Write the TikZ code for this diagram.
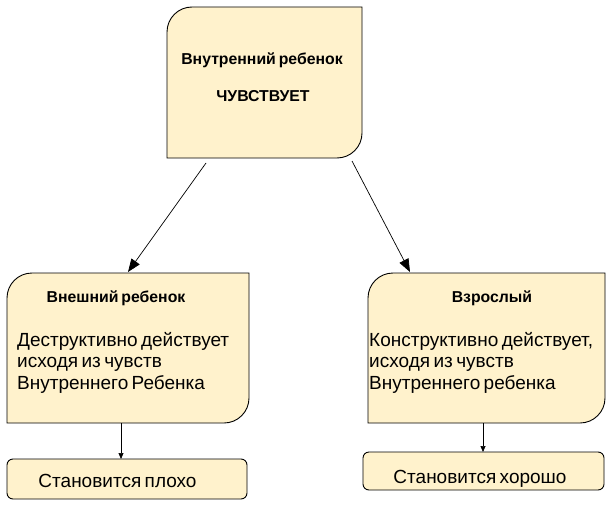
\documentclass[tikz,border=0pt]{standalone}
\usepackage{fontspec}
\setmainfont{Liberation Sans}
\newfontfamily\tightfont[WordSpace=0.65]{Liberation Sans}
\usetikzlibrary{arrows.meta,calc}
\definecolor{boxfill}{HTML}{FFF2CC}
\tikzset{
  frame/.style={draw=none, fill=none, inner sep=0pt, outer sep=0pt},
  outline/.style={draw=black, fill=boxfill, line width=0.9pt},
  pill/.style={draw=black, fill=boxfill, line width=0.9pt, rounded corners=6pt, inner sep=0pt, outer sep=0pt},
  bigarrow/.style={-{Triangle[length=13pt,width=10pt]}, line width=0.7pt},
  smallarrow/.style={-{Triangle[length=6pt,width=5pt]}, line width=0.7pt},
  boldtext/.style={font=\tightfont\fontsize{15.8}{18}\selectfont\bfseries, inner sep=0pt, anchor=base},
  bodytext/.style={font=\tightfont\fontsize{19}{21.5}\selectfont, inner sep=0pt, anchor=base west},
  endtext/.style={font=\tightfont\fontsize{19}{21.5}\selectfont, inner sep=0pt, anchor=base},
}
\newcommand\cutbox[1]{%
  \draw[outline] (#1.north east) -- ($(#1.south east)+(0,25)$)
    arc[start angle=0,end angle=-90,radius=25] -- (#1.south west)
    -- ($(#1.north west)+(0,-25)$) arc[start angle=180,end angle=90,radius=25] -- cycle;}
\begin{document}
\begin{tikzpicture}[x=1pt,y=1pt]
\useasboundingbox (0,0) rectangle (612,507);
% shapes
\node[frame, minimum width=195pt, minimum height=151pt] (top) at (264.5,424.5) {};
\node[frame, minimum width=242pt, minimum height=150pt] (lb) at (128,159) {};
\node[frame, minimum width=237pt, minimum height=150pt] (rb) at (486.5,159) {};
\cutbox{top}
\cutbox{lb}
\cutbox{rb}
\node[pill, minimum width=240pt, minimum height=40pt] (lbot) at (127,28) {};
\node[pill, minimum width=241pt, minimum height=38pt] (rbot) at (483.5,36) {};
% texts
\node[boldtext] (t1) at (262,442) {Внутренний ребенок};
\node[boldtext] (t2) at (263,405) {ЧУВСТВУЕТ};
\node[boldtext] (l1) at (116,205) {Внешний ребенок};
\node[bodytext] (l2) at (17,161) {Деструктивно действует};
\node[bodytext] (l3) at (17,139.5) {исходя из чувств};
\node[bodytext] (l4) at (17,118) {Внутреннего Ребенка};
\node[boldtext] (r1) at (492,205) {Взрослый};
\node[bodytext] (r2) at (369,161) {Конструктивно действует,};
\node[bodytext] (r3) at (369,139.5) {исходя из чувств};
\node[bodytext] (r4) at (369,118) {Внутреннего ребенка};
\node[endtext] (b1) at (117.5,20) {Становится плохо};
\node[endtext] (b2) at (480,24) {Становится хорошо};
% connectors
\draw[bigarrow] ([xshift=-58.5pt,yshift=-5pt]top.south) -- ([yshift=1pt]lb.north);
\draw[bigarrow] ([xshift=87.5pt,yshift=-3pt]top.south) -- ([xshift=-76.5pt,yshift=1pt]rb.north);
\draw[smallarrow] ([xshift=-7pt]lb.south) -- ([xshift=-6pt]lbot.north);
\draw[smallarrow] ([xshift=-3.5pt]rb.south) -- ([xshift=-0.5pt]rbot.north);
\end{tikzpicture}
\end{document}
